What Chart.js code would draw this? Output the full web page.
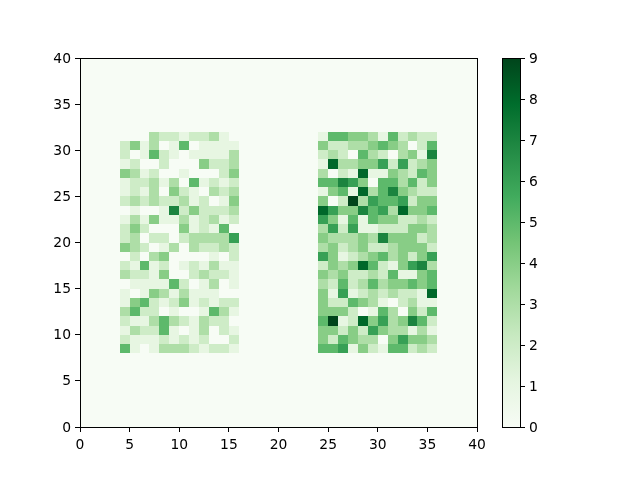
<!DOCTYPE html>
<html>
<head>
<meta charset="utf-8">
<style>
  html, body { margin: 0; padding: 0; background: #fff; }
  #main { position: absolute; left: 0; top: 0; }
  #bar { position: absolute; left: 490px; top: 0; }
</style>
<script src="https://cdn.jsdelivr.net/npm/chart.js@4"></script>
</head>
<body>
<canvas id="main" width="640" height="480"></canvas>
<canvas id="bar" width="150" height="480"></canvas>
<script>
// counts, rows go top (y=31) to bottom (y=8)
const leftCounts = [
  [0,0,0,3,2,2,1,2,2,3,1,0],
  [2,4,1,3,0,1,5,0,1,1,1,1],
  [2,0,1,5,2,1,0,1,1,1,1,3],
  [1,2,0,0,2,0,0,0,4,2,2,3],
  [4,3,1,2,0,0,1,0,0,0,2,4],
  [1,2,2,3,1,3,0,5,1,2,1,2],
  [1,2,1,3,0,4,2,1,0,3,2,3],
  [2,3,2,3,2,2,3,1,2,0,1,4],
  [0,1,0,0,1,7,2,4,2,2,2,3],
  [1,3,1,4,1,1,3,1,2,3,1,2],
  [2,4,2,0,0,0,4,1,2,1,5,0],
  [2,3,0,2,2,0,2,3,3,3,3,6],
  [4,3,2,0,1,3,0,3,2,2,3,2],
  [0,2,0,3,4,0,0,0,0,1,0,2],
  [2,1,5,1,2,0,1,2,1,3,1,1],
  [3,2,2,1,4,0,0,2,3,2,2,1],
  [0,1,1,1,1,5,2,0,1,3,0,1],
  [1,0,1,4,3,1,3,1,1,1,0,0],
  [1,4,5,2,1,2,4,1,2,1,2,2],
  [3,5,2,2,0,1,0,0,1,5,3,1],
  [2,1,1,3,5,3,2,1,3,2,2,0],
  [1,3,2,2,5,1,0,1,3,0,2,1],
  [2,1,1,1,2,1,2,1,2,0,0,2],
  [5,1,0,1,3,3,3,2,1,2,2,1]
];
const rightCounts = [
  [1,5,5,4,4,3,1,5,2,3,2,2],
  [4,2,2,3,3,4,5,4,3,0,2,5],
  [2,3,2,0,5,3,2,0,3,4,1,7],
  [1,8,3,3,4,4,6,2,6,2,3,4],
  [3,0,2,1,8,1,1,4,3,2,5,4],
  [5,5,7,6,4,0,5,5,3,5,2,4],
  [1,4,5,1,8,3,5,7,4,3,2,2],
  [4,0,2,9,3,6,5,5,6,2,4,4],
  [8,6,4,4,7,5,6,3,8,4,4,5],
  [6,4,1,5,1,5,4,4,2,2,3,2],
  [3,6,2,6,1,1,2,2,2,4,4,3],
  [4,3,3,3,4,3,7,4,4,4,2,3],
  [3,4,2,3,4,2,2,3,4,4,4,2],
  [6,4,1,2,3,4,5,3,4,2,4,6],
  [2,4,3,4,8,5,2,1,4,6,7,3],
  [4,3,4,2,2,3,2,5,1,1,4,5],
  [3,2,5,2,3,5,3,4,4,5,4,5],
  [4,1,6,1,2,3,2,3,2,2,1,8],
  [4,2,2,5,4,3,1,0,2,3,1,1],
  [4,4,4,2,0,1,5,3,0,4,2,5],
  [5,9,1,2,8,4,6,3,4,7,5,2],
  [4,4,2,4,2,6,4,3,3,1,3,1],
  [4,2,5,4,3,3,0,4,6,4,4,3],
  [5,5,6,1,4,2,1,5,5,2,3,2]
];
const leftStartX = 4;
const rightStartX = 24;
const topRowY = 31;
const axisMax = 40;
const axisStep = 5;
const colorMax = 9;

// matplotlib Greens
const greens = ['#f7fcf5','#e5f5e0','#c7e9c0','#a1d99b','#74c476','#41ab5d','#238b45','#006d2c','#00441b'];

function hexToRgb(h) {
  return [1, 3, 5].map(i => parseInt(h.slice(i, i + 2), 16));
}

function colorFor(v) {
  const t = v / colorMax * (greens.length - 1);
  const i = Math.min(Math.floor(t), greens.length - 2);
  const a = hexToRgb(greens[i]);
  const b = hexToRgb(greens[i + 1]);
  const c = a.map((n, k) => Math.round(n + (b[k] - n) * (t - i)));
  return `rgb(${c[0]},${c[1]},${c[2]})`;
}

function addCells(cells, counts, startX) {
  counts.forEach((row, r) => {
    row.forEach((v, c) => {
      const y = topRowY - r;
      cells.push({ x: startX + c + 0.5, y: [y, y + 1], v: v });
    });
  });
}

const cells = [];
addCells(cells, leftCounts, leftStartX);
addCells(cells, rightCounts, rightStartX);

const tickFont = { family: 'DejaVu Sans', size: 13.89 };

// snap cell edges to whole pixels so neighbours don't blur into each other
const snapPlugin = {
  id: 'snap',
  afterDatasetsUpdate(chart) {
    chart.getDatasetMeta(0).data.forEach(bar => {
      const l = Math.round(bar.x - bar.width / 2);
      const r = Math.round(bar.x + bar.width / 2);
      bar.x = (l + r) / 2;
      bar.width = r - l;
      bar.y = Math.round(bar.y);
      bar.base = Math.round(bar.base);
    });
  }
};

// axes frame, plus the zero colour behind the whole plot
const framePlugin = {
  id: 'frame',
  beforeDatasetsDraw(chart, args, opts) {
    if (!opts.fill) return;
    const a = chart.chartArea;
    chart.ctx.save();
    chart.ctx.fillStyle = opts.fill;
    chart.ctx.fillRect(a.left, a.top, a.right - a.left, a.bottom - a.top);
    chart.ctx.restore();
  },
  afterDraw(chart) {
    const a = chart.chartArea;
    const ctx = chart.ctx;
    ctx.save();
    ctx.strokeStyle = '#000';
    ctx.lineWidth = 1;
    ctx.strokeRect(a.left + 0.5, a.top + 0.5, a.right - a.left, a.bottom - a.top);
    ctx.restore();
  }
};

function tickAxis(step, padding, labelOffset, extra) {
  return Object.assign({
    grid: { drawOnChartArea: false, drawTicks: true, tickLength: 5, tickColor: '#000', tickWidth: 1, offset: false },
    border: { display: false },
    ticks: { color: '#000', font: tickFont, padding: padding, labelOffset: labelOffset, maxRotation: 0, autoSkip: false, stepSize: step }
  }, extra);
}

new Chart(document.getElementById('main'), {
  type: 'bar',
  data: {
    datasets: [{
      data: cells,
      backgroundColor: ctx => colorFor(ctx.raw.v),
      borderWidth: 0,
      barPercentage: 1,
      categoryPercentage: 1,
      inflateAmount: 0
    }]
  },
  options: {
    responsive: false,
    animation: false,
    events: [],
    layout: { padding: { left: 50, right: 163, top: 58, bottom: 23 } },
    plugins: { legend: { display: false }, tooltip: { enabled: false }, frame: { fill: greens[0] } },
    scales: {
      x: tickAxis(axisStep, 5, 0, {
        type: 'linear', offset: false, min: 0, max: axisMax,
        afterFit(s) { s.height = 30; }
      }),
      y: tickAxis(axisStep, 4, 1, {
        type: 'linear', min: 0, max: axisMax,
        afterFit(s) { s.width = 30; }
      })
    }
  },
  plugins: [snapPlugin, framePlugin]
});

// colorbar: one floating bar with the colormap as gradient
new Chart(document.getElementById('bar'), {
  type: 'bar',
  data: {
    labels: [''],
    datasets: [{
      data: [[0, colorMax]],
      backgroundColor(ctx) {
        const a = ctx.chart.chartArea;
        if (!a) return greens[4];
        const g = ctx.chart.ctx.createLinearGradient(0, a.bottom, 0, a.top);
        greens.forEach((c, i) => g.addColorStop(i / (greens.length - 1), c));
        return g;
      },
      borderWidth: 0,
      barPercentage: 1,
      categoryPercentage: 1
    }]
  },
  options: {
    responsive: false,
    animation: false,
    events: [],
    layout: { padding: { left: 12, right: 90, top: 58, bottom: 53 } },
    plugins: { legend: { display: false }, tooltip: { enabled: false } },
    scales: {
      x: { display: false },
      y: tickAxis(1, 4, 1, {
        position: 'right', min: 0, max: colorMax,
        afterFit(s) { s.width = 30; }
      })
    }
  },
  plugins: [framePlugin]
});
</script>
</body>
</html>
